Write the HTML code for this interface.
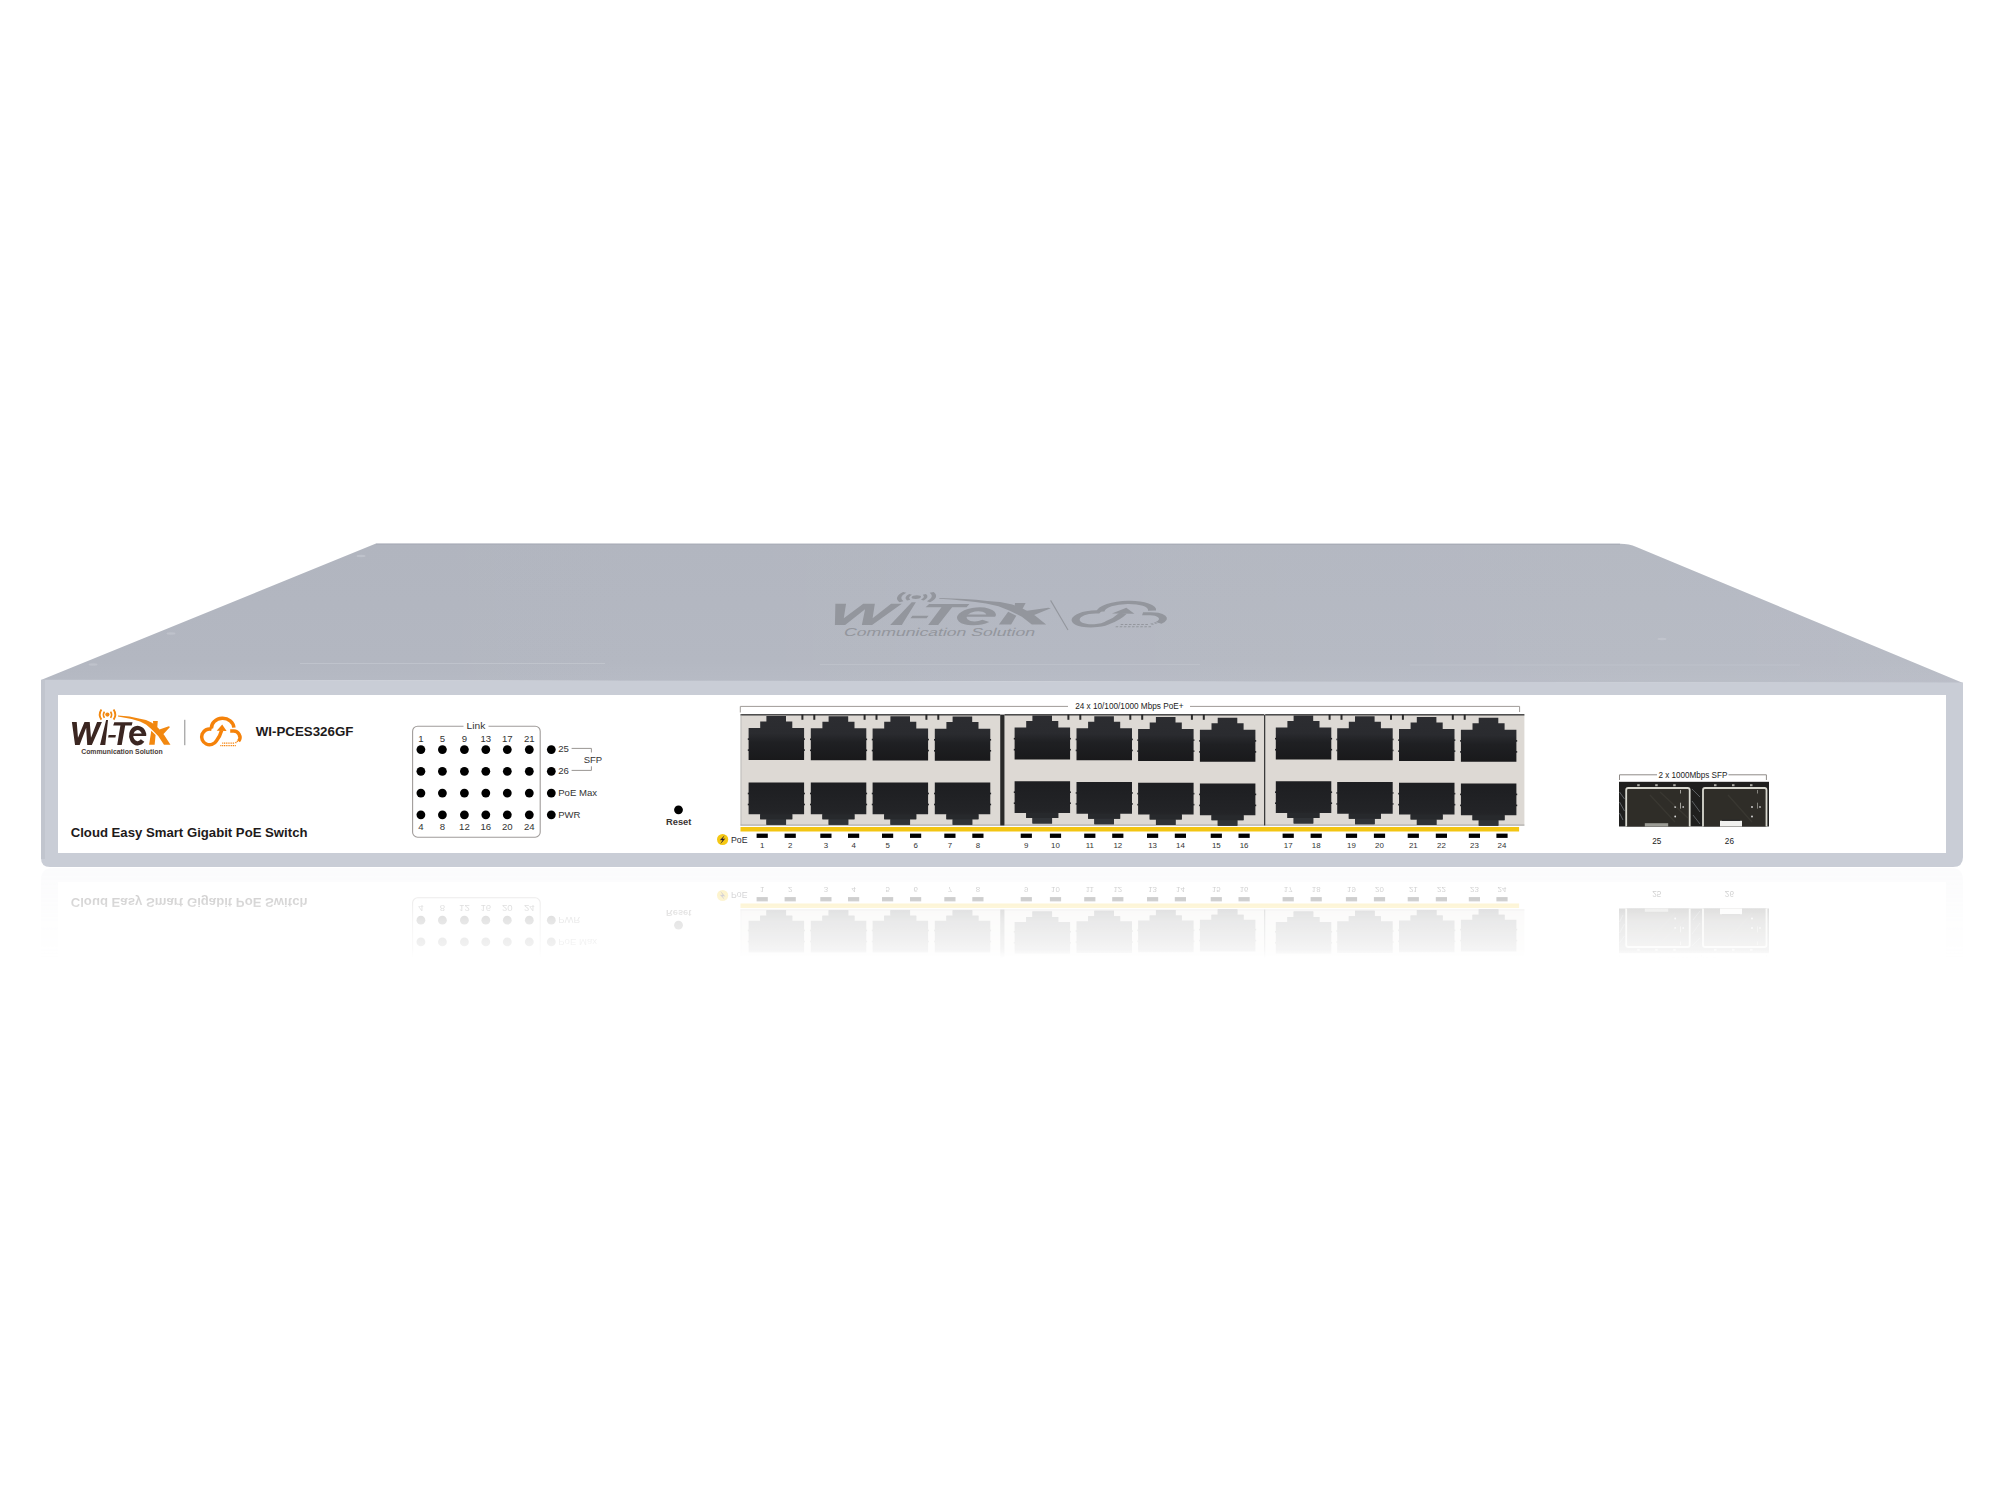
<!DOCTYPE html>
<html><head><meta charset="utf-8"><title>Wi-Tek WI-PCES326GF</title>
<style>html,body{margin:0;padding:0;background:#fff;width:2000px;height:1500px;overflow:hidden}svg{display:block}</style>
</head><body>
<svg width="2000" height="1500" viewBox="0 0 2000 1500">
<style>.s{font-family:"Liberation Sans",sans-serif}</style>
<defs>
<linearGradient id="gTop" x1="0" y1="543" x2="0" y2="683" gradientUnits="userSpaceOnUse">
<stop offset="0" stop-color="#b1b5bf"/><stop offset="0.85" stop-color="#b3b7c1"/><stop offset="1" stop-color="#b6bac4"/>
</linearGradient>
<linearGradient id="gJT" x1="0" y1="0" x2="0" y2="1"><stop offset="0" stop-color="#2c2d31"/><stop offset="0.4" stop-color="#2a2b2f"/><stop offset="0.6" stop-color="#1f2023"/><stop offset="1" stop-color="#19191b"/></linearGradient>
<linearGradient id="gJB" x1="0" y1="0" x2="0" y2="1"><stop offset="0" stop-color="#1d1e21"/><stop offset="0.7" stop-color="#232427"/><stop offset="1" stop-color="#2e3034"/></linearGradient>
<linearGradient id="gH" x1="300" y1="0" x2="1900" y2="0" gradientUnits="userSpaceOnUse"><stop offset="0" stop-color="#fff" stop-opacity="0"/><stop offset="1" stop-color="#fff" stop-opacity="0.065"/></linearGradient>
<linearGradient id="gFade" x1="0" y1="868" x2="0" y2="958" gradientUnits="userSpaceOnUse">
<stop offset="0" stop-color="#fff" stop-opacity="0.3"/><stop offset="0.32" stop-color="#fff" stop-opacity="0.2"/><stop offset="0.59" stop-color="#fff" stop-opacity="0.1"/><stop offset="0.9" stop-color="#fff" stop-opacity="0.05"/><stop offset="1" stop-color="#fff" stop-opacity="0"/>
</linearGradient>
<mask id="mFade" maskUnits="userSpaceOnUse" x="0" y="860" width="2000" height="200">
<rect x="0" y="860" width="2000" height="200" fill="url(#gFade)"/>
</mask>
</defs>
<rect width="2000" height="1500" fill="#ffffff"/>
<g mask="url(#mFade)"><g transform="translate(0,1735) scale(1,-1)">
<path d="M41,695 L1963,695 L1963,855 Q1963,867 1951,867 L53,867 Q41,867 41,855 Z" fill="#c9cdd6" opacity="0.25"/>
<use href="#front"/>
</g></g>
<path d="M376,543.6 L1620,543.8 Q1629,543.8 1636.4,546.9 L1963,683 L41,680 Z" fill="url(#gTop)"/>
<path d="M376,543.6 L1620,543.8 Q1629,543.8 1636.4,546.9 L1963,683 L41,680 Z" fill="url(#gH)"/>
<path d="M376,544.2 L1620,544.4" stroke="#a9adb7" stroke-width="1.1"/>
<ellipse cx="361" cy="556" rx="4.5" ry="1.2" fill="#cfd3da" opacity="0.45"/><ellipse cx="171" cy="633.5" rx="4.5" ry="1.2" fill="#cfd3da" opacity="0.4"/><ellipse cx="93" cy="664.5" rx="4.5" ry="1.2" fill="#cfd3da" opacity="0.4"/><ellipse cx="1662" cy="639" rx="4.5" ry="1.2" fill="#cfd3da" opacity="0.4"/>
<line x1="300" y1="663.5" x2="605" y2="663.5" stroke="#c3c7cf" stroke-width="1.2" opacity="0.8"/>
<line x1="820" y1="664.5" x2="1200" y2="664.5" stroke="#c3c7cf" stroke-width="1.2" opacity="0.6"/>
<line x1="1410" y1="665" x2="1800" y2="665" stroke="#c3c7cf" stroke-width="1.2" opacity="0.6"/>
<g transform="matrix(2.2117,0,-0.322,0.9142,908.87,-56.17)"><path d="M71.89,721.99 L76.72,721.99 L77.98,737.74 L84.49,721.99 L89.74,721.99 L91.0,737.74 L97.09,721.99 L101.92,721.99 L91.84,745.09 L87.22,745.09 L86.17,727.87 L79.66,745.09 L75.04,745.09 Z M106.12,720.1 L108.01,720.1 L105.28,745.09 L100.03,745.09 Z M108.6,734.9 L115.9,734.9 L115.4,737.6 L108.1,737.6 Z M114.27,722.13 L132.53,722.13 L131.73,725.6 L125.2,725.6 L121.73,745.07 L117.2,745.07 L120.4,725.6 L113.2,725.6 Z" fill="#93969d"/>
<path d="M144.1,734.6 A6.5,7.7 0 1,0 142.6,740.6" stroke="#93969d" stroke-width="4.3" fill="none"/>
<rect x="130.8" y="733.5" width="15.4" height="2.5" fill="#93969d"/>
<path d="M118,715.5 Q130,716.1 140,718.72 L146,719.92 L152,722.8 L157.76,727.6 L164,734.8 L170.48,744.64 L164,744.64 L158.24,736 L151.52,729.28 L146,724.48 L140,721.6 Q130,718.2 118,716.5 Z M152.96,721.12 L157.78,721.12 L157.28,727.6 L153.44,725.44 Z M151.28,730.72 L155.6,735.04 L154.64,744.64 L149.12,744.64 Z M157.28,730.24 L168.8,726.16 L170,726.88 L163.52,734.08 Z" fill="#93969d"/>
<circle cx="107.4" cy="714.6" r="2.1" fill="#93969d"/>
<path d="M104.4,711.6 Q102.4,714.6 104.4,717.8 M110.6,711.6 Q112.6,714.6 110.6,717.8" stroke="#93969d" stroke-width="1.6" fill="none"/>
<path d="M101.4,709.4 Q98,714.6 101.4,719.6 M113.6,709.4 Q117,714.6 113.6,719.6" stroke="#93969d" stroke-width="1.9" fill="none"/></g>
<text class="s" x="0" y="0" font-size="11.4" fill="#93969d" transform="translate(843,636.2) skewX(-18)" textLength="191" lengthAdjust="spacingAndGlyphs">Communication Solution</text>
<path d="M1050.6,600.4 L1068,630" stroke="#93969d" stroke-width="1.1"/>
<g transform="matrix(2.28,0,-0.3,0.89,837.05,-36.9)"><g fill="none" stroke="#93969d" stroke-width="3.5" stroke-linecap="butt">
<path d="M211.6,729.2 A7.9,7.9 0 1,0 216.4,740.8 Q219.8,737 221.6,730.5"/>
<path d="M211.4,728.6 A11.2,9.8 0 0,1 233.9,727.6"/>
<path d="M230.2,731.1 H232.5 A6.4,6.4 0 0,1 238.6,741.3"/>
</g>
<path d="M222.2,724.4 L226.6,731 L216.7,730.7 Z" fill="#93969d"/>
<path d="M222.2,743.1 h12.6" stroke="#93969d" stroke-width="1.3" stroke-dasharray="1.1,0.7"/>
<path d="M220.3,745.6 h16" stroke="#93969d" stroke-width="1.2" stroke-dasharray="1.1,0.7"/>
<path d="M235.5,743 L240,739" stroke="#93969d" stroke-width="1.5" stroke-dasharray="1.1,0.7"/></g>
<path d="M41,679.8 L1963,682.5 L1963,857 Q1963,867 1953,867 L50,867 Q41,867 41,858 Z" fill="#c9cdd6"/>
<rect x="41" y="680" width="4" height="179" fill="#c1c5ce"/>
<g id="front">
<rect x="58" y="695" width="1888" height="158" fill="#ffffff"/>
<g><path d="M71.89,721.99 L76.72,721.99 L77.98,737.74 L84.49,721.99 L89.74,721.99 L91.0,737.74 L97.09,721.99 L101.92,721.99 L91.84,745.09 L87.22,745.09 L86.17,727.87 L79.66,745.09 L75.04,745.09 Z M106.12,720.1 L108.01,720.1 L105.28,745.09 L100.03,745.09 Z M108.6,734.9 L115.9,734.9 L115.4,737.6 L108.1,737.6 Z M114.27,722.13 L132.53,722.13 L131.73,725.6 L125.2,725.6 L121.73,745.07 L117.2,745.07 L120.4,725.6 L113.2,725.6 Z" fill="#3b2621"/>
<path d="M144.1,734.6 A6.5,7.7 0 1,0 142.6,740.6" stroke="#3b2621" stroke-width="4.3" fill="none"/>
<rect x="130.8" y="733.5" width="15.4" height="2.5" fill="#3b2621"/>
<path d="M118,715.5 Q130,716.1 140,718.72 L146,719.92 L152,722.8 L157.76,727.6 L164,734.8 L170.48,744.64 L164,744.64 L158.24,736 L151.52,729.28 L146,724.48 L140,721.6 Q130,718.2 118,716.5 Z M152.96,721.12 L157.78,721.12 L157.28,727.6 L153.44,725.44 Z M151.28,730.72 L155.6,735.04 L154.64,744.64 L149.12,744.64 Z M157.28,730.24 L168.8,726.16 L170,726.88 L163.52,734.08 Z" fill="#f28810"/>
<circle cx="107.4" cy="714.6" r="2.1" fill="#f28810"/>
<path d="M104.4,711.6 Q102.4,714.6 104.4,717.8 M110.6,711.6 Q112.6,714.6 110.6,717.8" stroke="#f28810" stroke-width="1.6" fill="none"/>
<path d="M101.4,709.4 Q98,714.6 101.4,719.6 M113.6,709.4 Q117,714.6 113.6,719.6" stroke="#f28810" stroke-width="1.9" fill="none"/>
<text class="s" x="81.2" y="753.7" font-size="7.3" font-weight="bold" fill="#4a3d39" textLength="81.4" lengthAdjust="spacingAndGlyphs">Communication Solution</text>
<rect x="184.3" y="719.8" width="1" height="25.4" fill="#8a8a8a"/></g>
<g fill="none" stroke="#f5820a" stroke-width="3.5" stroke-linecap="butt">
<path d="M211.6,729.2 A7.9,7.9 0 1,0 216.4,740.8 Q219.8,737 221.6,730.5"/>
<path d="M211.4,728.6 A11.2,9.8 0 0,1 233.9,727.6"/>
<path d="M230.2,731.1 H232.5 A6.4,6.4 0 0,1 238.6,741.3"/>
</g>
<path d="M222.2,724.4 L226.6,731 L216.7,730.7 Z" fill="#f5820a"/>
<path d="M222.2,743.1 h12.6" stroke="#f5820a" stroke-width="1.3" stroke-dasharray="1.1,0.7"/>
<path d="M220.3,745.6 h16" stroke="#f5820a" stroke-width="1.2" stroke-dasharray="1.1,0.7"/>
<path d="M235.5,743 L240,739" stroke="#f5820a" stroke-width="1.5" stroke-dasharray="1.1,0.7"/>
<text class="s" x="255.8" y="735.9" font-weight="bold" font-size="13.6" fill="#1e1a1a" textLength="97.6" lengthAdjust="spacingAndGlyphs">WI-PCES326GF</text>
<text class="s" x="70.7" y="836.9" font-weight="bold" font-size="13.4" fill="#1e1a1a" textLength="236.8" lengthAdjust="spacingAndGlyphs">Cloud Easy Smart Gigabit PoE Switch</text>
<rect x="412.6" y="726.2" width="127.6" height="111" rx="5" fill="none" stroke="#a09c9a" stroke-width="1.1"/>
<rect x="463.5" y="722" width="25" height="8" fill="#fff"/>
<text class="s" x="466.6" y="729.2" font-size="9.6" fill="#333" textLength="18.7" lengthAdjust="spacingAndGlyphs">Link</text>
<text class="s" x="420.9" y="742.0" font-size="9.6" fill="#333" text-anchor="middle">1</text>
<text class="s" x="420.9" y="829.9" font-size="9.6" fill="#333" text-anchor="middle">4</text>
<circle cx="420.9" cy="749.6" r="4.4" fill="#000"/>
<circle cx="420.9" cy="771.3" r="4.4" fill="#000"/>
<circle cx="420.9" cy="793.1" r="4.4" fill="#000"/>
<circle cx="420.9" cy="814.8" r="4.4" fill="#000"/>
<text class="s" x="442.4" y="742.0" font-size="9.6" fill="#333" text-anchor="middle">5</text>
<text class="s" x="442.4" y="829.9" font-size="9.6" fill="#333" text-anchor="middle">8</text>
<circle cx="442.4" cy="749.6" r="4.4" fill="#000"/>
<circle cx="442.4" cy="771.3" r="4.4" fill="#000"/>
<circle cx="442.4" cy="793.1" r="4.4" fill="#000"/>
<circle cx="442.4" cy="814.8" r="4.4" fill="#000"/>
<text class="s" x="464.4" y="742.0" font-size="9.6" fill="#333" text-anchor="middle">9</text>
<text class="s" x="464.4" y="829.9" font-size="9.6" fill="#333" text-anchor="middle">12</text>
<circle cx="464.4" cy="749.6" r="4.4" fill="#000"/>
<circle cx="464.4" cy="771.3" r="4.4" fill="#000"/>
<circle cx="464.4" cy="793.1" r="4.4" fill="#000"/>
<circle cx="464.4" cy="814.8" r="4.4" fill="#000"/>
<text class="s" x="485.8" y="742.0" font-size="9.6" fill="#333" text-anchor="middle">13</text>
<text class="s" x="485.8" y="829.9" font-size="9.6" fill="#333" text-anchor="middle">16</text>
<circle cx="485.8" cy="749.6" r="4.4" fill="#000"/>
<circle cx="485.8" cy="771.3" r="4.4" fill="#000"/>
<circle cx="485.8" cy="793.1" r="4.4" fill="#000"/>
<circle cx="485.8" cy="814.8" r="4.4" fill="#000"/>
<text class="s" x="507.3" y="742.0" font-size="9.6" fill="#333" text-anchor="middle">17</text>
<text class="s" x="507.3" y="829.9" font-size="9.6" fill="#333" text-anchor="middle">20</text>
<circle cx="507.3" cy="749.6" r="4.4" fill="#000"/>
<circle cx="507.3" cy="771.3" r="4.4" fill="#000"/>
<circle cx="507.3" cy="793.1" r="4.4" fill="#000"/>
<circle cx="507.3" cy="814.8" r="4.4" fill="#000"/>
<text class="s" x="529.3" y="742.0" font-size="9.6" fill="#333" text-anchor="middle">21</text>
<text class="s" x="529.3" y="829.9" font-size="9.6" fill="#333" text-anchor="middle">24</text>
<circle cx="529.3" cy="749.6" r="4.4" fill="#000"/>
<circle cx="529.3" cy="771.3" r="4.4" fill="#000"/>
<circle cx="529.3" cy="793.1" r="4.4" fill="#000"/>
<circle cx="529.3" cy="814.8" r="4.4" fill="#000"/>
<circle cx="551.3" cy="749.6" r="4.4" fill="#000"/>
<circle cx="551.3" cy="771.3" r="4.4" fill="#000"/>
<circle cx="551.3" cy="793.1" r="4.4" fill="#000"/>
<circle cx="551.3" cy="814.8" r="4.4" fill="#000"/>
<text class="s" x="558.2" y="751.9" font-size="9.6" fill="#333">25</text>
<text class="s" x="558.2" y="773.7" font-size="9.6" fill="#333">26</text>
<text class="s" x="558.2" y="796.1" font-size="9.6" fill="#333" textLength="38.8" lengthAdjust="spacingAndGlyphs">PoE Max</text>
<text class="s" x="558.2" y="818.1" font-size="9.6" fill="#333" textLength="22.2" lengthAdjust="spacingAndGlyphs">PWR</text>
<path d="M571.6,748.4 H591.4 V752.5 M571.6,770.4 H591.4 V766.3" fill="none" stroke="#9a9693" stroke-width="1"/>
<text class="s" x="583.7" y="762.9" font-size="9.6" fill="#333" textLength="18.5" lengthAdjust="spacingAndGlyphs">SFP</text>
<circle cx="678.5" cy="809.8" r="4.4" fill="#000"/>
<text class="s" x="666" y="825.4" font-size="9.4" font-weight="bold" fill="#3a3533" textLength="25.4" lengthAdjust="spacingAndGlyphs">Reset</text>
<path d="M740.3,712.5 V706.4 H1068 M1190,706.4 H1519.6 V712" fill="none" stroke="#9f9b98" stroke-width="1"/>
<text class="s" x="1075.2" y="709.4" font-size="8.4" fill="#222" textLength="108.3" lengthAdjust="spacingAndGlyphs">24 x 10/100/1000 Mbps PoE+</text>
<rect x="740.5" y="714.6" width="259.7" height="111" fill="#ddd9d4"/>
<rect x="740.5" y="714.1" width="259.7" height="1.4" fill="#3c3c3c"/>
<rect x="740.5" y="824.6" width="259.7" height="1" fill="#8d8a88" opacity="0.7"/>
<rect x="1004.5" y="714.6" width="259.5" height="111" fill="#ddd9d4"/>
<rect x="1004.5" y="714.1" width="259.5" height="1.4" fill="#3c3c3c"/>
<rect x="1004.5" y="824.6" width="259.5" height="1" fill="#8d8a88" opacity="0.7"/>
<rect x="1265.2" y="714.6" width="259.2" height="111" fill="#ddd9d4"/>
<rect x="1265.2" y="714.1" width="259.2" height="1.4" fill="#3c3c3c"/>
<rect x="1265.2" y="824.6" width="259.2" height="1" fill="#8d8a88" opacity="0.7"/>
<rect x="1000.2" y="714.6" width="4.3" height="111" fill="#2a2a2a"/>
<rect x="1264" y="714.6" width="1.3" height="111" fill="#3a3a3a"/>
<rect x="740.5" y="714.6" width="1" height="111" fill="#aaa" opacity="0.6"/>
<g transform="translate(0,-0.20)"><path d="M766.4,716.1h19.6v5.5h6.3v6.6h11.8v32h-55.5v-32h11.6v-6.6h6.2z" fill="url(#gJT)"/>
<rect x="747.8" y="738.5" width="1.2" height="1.6" fill="#222326"/><rect x="803.7" y="738.5" width="1.2" height="1.6" fill="#222326"/>
<rect x="747.8" y="749.5" width="1.2" height="1.6" fill="#222326"/><rect x="803.7" y="749.5" width="1.2" height="1.6" fill="#222326"/>
</g>
<g transform="translate(0,0.20)">
<path d="M748.6,782.3h55.5v31.8h-11.8v5h-6.2v5.5h-19.6v-5.5h-6.3v-5h-11.6z" fill="url(#gJB)"/>
<rect x="760.2" y="814.1" width="32" height="5" fill="#27292c"/>
<rect x="766.4" y="819.1" width="19.6" height="5.5" fill="#303337"/>
<rect x="747.8" y="792.5" width="1.2" height="1.6" fill="#222326"/><rect x="803.7" y="792.5" width="1.2" height="1.6" fill="#222326"/>
<rect x="747.8" y="803.5" width="1.2" height="1.6" fill="#222326"/><rect x="803.7" y="803.5" width="1.2" height="1.6" fill="#222326"/>
</g>
<rect x="801.4" y="714.6" width="2" height="5.2" fill="#2a2a2a"/>
<rect x="813.3" y="714.6" width="2" height="5.2" fill="#2a2a2a"/>
<g transform="translate(0,0.03)"><path d="M828.6,716.1h19.6v5.5h6.3v6.6h11.8v32h-55.5v-32h11.6v-6.6h6.2z" fill="url(#gJT)"/>
<rect x="810.0" y="738.5" width="1.2" height="1.6" fill="#222326"/><rect x="865.9" y="738.5" width="1.2" height="1.6" fill="#222326"/>
<rect x="810.0" y="749.5" width="1.2" height="1.6" fill="#222326"/><rect x="865.9" y="749.5" width="1.2" height="1.6" fill="#222326"/>
</g>
<g transform="translate(0,0.20)">
<path d="M810.8,782.3h55.5v31.8h-11.8v5h-6.2v5.5h-19.6v-5.5h-6.3v-5h-11.6z" fill="url(#gJB)"/>
<rect x="822.4" y="814.1" width="32" height="5" fill="#27292c"/>
<rect x="828.6" y="819.1" width="19.6" height="5.5" fill="#303337"/>
<rect x="810.0" y="792.5" width="1.2" height="1.6" fill="#222326"/><rect x="865.9" y="792.5" width="1.2" height="1.6" fill="#222326"/>
<rect x="810.0" y="803.5" width="1.2" height="1.6" fill="#222326"/><rect x="865.9" y="803.5" width="1.2" height="1.6" fill="#222326"/>
</g>
<rect x="863.6" y="714.6" width="2" height="5.2" fill="#2a2a2a"/>
<rect x="875.5" y="714.6" width="2" height="5.2" fill="#2a2a2a"/>
<g transform="translate(0,0.26)"><path d="M890.4,716.1h19.6v5.5h6.3v6.6h11.8v32h-55.5v-32h11.6v-6.6h6.2z" fill="url(#gJT)"/>
<rect x="871.8" y="738.5" width="1.2" height="1.6" fill="#222326"/><rect x="927.7" y="738.5" width="1.2" height="1.6" fill="#222326"/>
<rect x="871.8" y="749.5" width="1.2" height="1.6" fill="#222326"/><rect x="927.7" y="749.5" width="1.2" height="1.6" fill="#222326"/>
</g>
<g transform="translate(0,0.20)">
<path d="M872.6,782.3h55.5v31.8h-11.8v5h-6.2v5.5h-19.6v-5.5h-6.3v-5h-11.6z" fill="url(#gJB)"/>
<rect x="884.2" y="814.1" width="32" height="5" fill="#27292c"/>
<rect x="890.4" y="819.1" width="19.6" height="5.5" fill="#303337"/>
<rect x="871.8" y="792.5" width="1.2" height="1.6" fill="#222326"/><rect x="927.7" y="792.5" width="1.2" height="1.6" fill="#222326"/>
<rect x="871.8" y="803.5" width="1.2" height="1.6" fill="#222326"/><rect x="927.7" y="803.5" width="1.2" height="1.6" fill="#222326"/>
</g>
<rect x="925.4" y="714.6" width="2" height="5.2" fill="#2a2a2a"/>
<rect x="937.3" y="714.6" width="2" height="5.2" fill="#2a2a2a"/>
<g transform="translate(0,0.49)"><path d="M952.6,716.1h19.6v5.5h6.3v6.6h11.8v32h-55.5v-32h11.6v-6.6h6.2z" fill="url(#gJT)"/>
<rect x="934.0" y="738.5" width="1.2" height="1.6" fill="#222326"/><rect x="989.9" y="738.5" width="1.2" height="1.6" fill="#222326"/>
<rect x="934.0" y="749.5" width="1.2" height="1.6" fill="#222326"/><rect x="989.9" y="749.5" width="1.2" height="1.6" fill="#222326"/>
</g>
<g transform="translate(0,0.20)">
<path d="M934.8,782.3h55.5v31.8h-11.8v5h-6.2v5.5h-19.6v-5.5h-6.3v-5h-11.6z" fill="url(#gJB)"/>
<rect x="946.4" y="814.1" width="32" height="5" fill="#27292c"/>
<rect x="952.6" y="819.1" width="19.6" height="5.5" fill="#303337"/>
<rect x="934.0" y="792.5" width="1.2" height="1.6" fill="#222326"/><rect x="989.9" y="792.5" width="1.2" height="1.6" fill="#222326"/>
<rect x="934.0" y="803.5" width="1.2" height="1.6" fill="#222326"/><rect x="989.9" y="803.5" width="1.2" height="1.6" fill="#222326"/>
</g>
<g transform="translate(0,-0.60)"><path d="M1032.4,716.1h19.6v5.5h6.3v6.6h11.8v32h-55.5v-32h11.6v-6.6h6.2z" fill="url(#gJT)"/>
<rect x="1013.8" y="738.5" width="1.2" height="1.6" fill="#222326"/><rect x="1069.7" y="738.5" width="1.2" height="1.6" fill="#222326"/>
<rect x="1013.8" y="749.5" width="1.2" height="1.6" fill="#222326"/><rect x="1069.7" y="749.5" width="1.2" height="1.6" fill="#222326"/>
</g>
<g transform="translate(0,-1.10)">
<path d="M1014.6,782.3h55.5v31.8h-11.8v5h-6.2v5.5h-19.6v-5.5h-6.3v-5h-11.6z" fill="url(#gJB)"/>
<rect x="1026.2" y="814.1" width="32" height="5" fill="#27292c"/>
<rect x="1032.4" y="819.1" width="19.6" height="5.5" fill="#303337"/>
<rect x="1013.8" y="792.5" width="1.2" height="1.6" fill="#222326"/><rect x="1069.7" y="792.5" width="1.2" height="1.6" fill="#222326"/>
<rect x="1013.8" y="803.5" width="1.2" height="1.6" fill="#222326"/><rect x="1069.7" y="803.5" width="1.2" height="1.6" fill="#222326"/>
</g>
<rect x="1067.4" y="714.6" width="2" height="5.2" fill="#2a2a2a"/>
<rect x="1079.3" y="714.6" width="2" height="5.2" fill="#2a2a2a"/>
<g transform="translate(0,0.13)"><path d="M1094.3,716.1h19.6v5.5h6.3v6.6h11.8v32h-55.5v-32h11.6v-6.6h6.2z" fill="url(#gJT)"/>
<rect x="1075.7" y="738.5" width="1.2" height="1.6" fill="#222326"/><rect x="1131.6" y="738.5" width="1.2" height="1.6" fill="#222326"/>
<rect x="1075.7" y="749.5" width="1.2" height="1.6" fill="#222326"/><rect x="1131.6" y="749.5" width="1.2" height="1.6" fill="#222326"/>
</g>
<g transform="translate(0,-0.37)">
<path d="M1076.5,782.3h55.5v31.8h-11.8v5h-6.2v5.5h-19.6v-5.5h-6.3v-5h-11.6z" fill="url(#gJB)"/>
<rect x="1088.1" y="814.1" width="32" height="5" fill="#27292c"/>
<rect x="1094.3" y="819.1" width="19.6" height="5.5" fill="#303337"/>
<rect x="1075.7" y="792.5" width="1.2" height="1.6" fill="#222326"/><rect x="1131.6" y="792.5" width="1.2" height="1.6" fill="#222326"/>
<rect x="1075.7" y="803.5" width="1.2" height="1.6" fill="#222326"/><rect x="1131.6" y="803.5" width="1.2" height="1.6" fill="#222326"/>
</g>
<rect x="1129.3" y="714.6" width="2" height="5.2" fill="#2a2a2a"/>
<rect x="1141.2" y="714.6" width="2" height="5.2" fill="#2a2a2a"/>
<g transform="translate(0,0.86)"><path d="M1155.9,716.1h19.6v5.5h6.3v6.6h11.8v32h-55.5v-32h11.6v-6.6h6.2z" fill="url(#gJT)"/>
<rect x="1137.3" y="738.5" width="1.2" height="1.6" fill="#222326"/><rect x="1193.2" y="738.5" width="1.2" height="1.6" fill="#222326"/>
<rect x="1137.3" y="749.5" width="1.2" height="1.6" fill="#222326"/><rect x="1193.2" y="749.5" width="1.2" height="1.6" fill="#222326"/>
</g>
<g transform="translate(0,0.36)">
<path d="M1138.1,782.3h55.5v31.8h-11.8v5h-6.2v5.5h-19.6v-5.5h-6.3v-5h-11.6z" fill="url(#gJB)"/>
<rect x="1149.7" y="814.1" width="32" height="5" fill="#27292c"/>
<rect x="1155.9" y="819.1" width="19.6" height="5.5" fill="#303337"/>
<rect x="1137.3" y="792.5" width="1.2" height="1.6" fill="#222326"/><rect x="1193.2" y="792.5" width="1.2" height="1.6" fill="#222326"/>
<rect x="1137.3" y="803.5" width="1.2" height="1.6" fill="#222326"/><rect x="1193.2" y="803.5" width="1.2" height="1.6" fill="#222326"/>
</g>
<rect x="1190.9" y="714.6" width="2" height="5.2" fill="#2a2a2a"/>
<rect x="1202.8" y="714.6" width="2" height="5.2" fill="#2a2a2a"/>
<g transform="translate(0,1.59)"><path d="M1217.7,716.1h19.6v5.5h6.3v6.6h11.8v32h-55.5v-32h11.6v-6.6h6.2z" fill="url(#gJT)"/>
<rect x="1199.1" y="738.5" width="1.2" height="1.6" fill="#222326"/><rect x="1255.0" y="738.5" width="1.2" height="1.6" fill="#222326"/>
<rect x="1199.1" y="749.5" width="1.2" height="1.6" fill="#222326"/><rect x="1255.0" y="749.5" width="1.2" height="1.6" fill="#222326"/>
</g>
<g transform="translate(0,1.09)">
<path d="M1199.9,782.3h55.5v31.8h-11.8v5h-6.2v5.5h-19.6v-5.5h-6.3v-5h-11.6z" fill="url(#gJB)"/>
<rect x="1211.5" y="814.1" width="32" height="5" fill="#27292c"/>
<rect x="1217.7" y="819.1" width="19.6" height="5.5" fill="#303337"/>
<rect x="1199.1" y="792.5" width="1.2" height="1.6" fill="#222326"/><rect x="1255.0" y="792.5" width="1.2" height="1.6" fill="#222326"/>
<rect x="1199.1" y="803.5" width="1.2" height="1.6" fill="#222326"/><rect x="1255.0" y="803.5" width="1.2" height="1.6" fill="#222326"/>
</g>
<g transform="translate(0,-0.60)"><path d="M1293.6,716.1h19.6v5.5h6.3v6.6h11.8v32h-55.5v-32h11.6v-6.6h6.2z" fill="url(#gJT)"/>
<rect x="1275.0" y="738.5" width="1.2" height="1.6" fill="#222326"/><rect x="1330.9" y="738.5" width="1.2" height="1.6" fill="#222326"/>
<rect x="1275.0" y="749.5" width="1.2" height="1.6" fill="#222326"/><rect x="1330.9" y="749.5" width="1.2" height="1.6" fill="#222326"/>
</g>
<g transform="translate(0,-1.10)">
<path d="M1275.8,782.3h55.5v31.8h-11.8v5h-6.2v5.5h-19.6v-5.5h-6.3v-5h-11.6z" fill="url(#gJB)"/>
<rect x="1287.4" y="814.1" width="32" height="5" fill="#27292c"/>
<rect x="1293.6" y="819.1" width="19.6" height="5.5" fill="#303337"/>
<rect x="1275.0" y="792.5" width="1.2" height="1.6" fill="#222326"/><rect x="1330.9" y="792.5" width="1.2" height="1.6" fill="#222326"/>
<rect x="1275.0" y="803.5" width="1.2" height="1.6" fill="#222326"/><rect x="1330.9" y="803.5" width="1.2" height="1.6" fill="#222326"/>
</g>
<rect x="1328.6" y="714.6" width="2" height="5.2" fill="#2a2a2a"/>
<rect x="1340.5" y="714.6" width="2" height="5.2" fill="#2a2a2a"/>
<g transform="translate(0,0.13)"><path d="M1355.0,716.1h19.6v5.5h6.3v6.6h11.8v32h-55.5v-32h11.6v-6.6h6.2z" fill="url(#gJT)"/>
<rect x="1336.4" y="738.5" width="1.2" height="1.6" fill="#222326"/><rect x="1392.3" y="738.5" width="1.2" height="1.6" fill="#222326"/>
<rect x="1336.4" y="749.5" width="1.2" height="1.6" fill="#222326"/><rect x="1392.3" y="749.5" width="1.2" height="1.6" fill="#222326"/>
</g>
<g transform="translate(0,-0.37)">
<path d="M1337.2,782.3h55.5v31.8h-11.8v5h-6.2v5.5h-19.6v-5.5h-6.3v-5h-11.6z" fill="url(#gJB)"/>
<rect x="1348.8" y="814.1" width="32" height="5" fill="#27292c"/>
<rect x="1355.0" y="819.1" width="19.6" height="5.5" fill="#303337"/>
<rect x="1336.4" y="792.5" width="1.2" height="1.6" fill="#222326"/><rect x="1392.3" y="792.5" width="1.2" height="1.6" fill="#222326"/>
<rect x="1336.4" y="803.5" width="1.2" height="1.6" fill="#222326"/><rect x="1392.3" y="803.5" width="1.2" height="1.6" fill="#222326"/>
</g>
<rect x="1390.0" y="714.6" width="2" height="5.2" fill="#2a2a2a"/>
<rect x="1401.9" y="714.6" width="2" height="5.2" fill="#2a2a2a"/>
<g transform="translate(0,0.86)"><path d="M1416.8,716.1h19.6v5.5h6.3v6.6h11.8v32h-55.5v-32h11.6v-6.6h6.2z" fill="url(#gJT)"/>
<rect x="1398.2" y="738.5" width="1.2" height="1.6" fill="#222326"/><rect x="1454.1" y="738.5" width="1.2" height="1.6" fill="#222326"/>
<rect x="1398.2" y="749.5" width="1.2" height="1.6" fill="#222326"/><rect x="1454.1" y="749.5" width="1.2" height="1.6" fill="#222326"/>
</g>
<g transform="translate(0,0.36)">
<path d="M1399.0,782.3h55.5v31.8h-11.8v5h-6.2v5.5h-19.6v-5.5h-6.3v-5h-11.6z" fill="url(#gJB)"/>
<rect x="1410.6" y="814.1" width="32" height="5" fill="#27292c"/>
<rect x="1416.8" y="819.1" width="19.6" height="5.5" fill="#303337"/>
<rect x="1398.2" y="792.5" width="1.2" height="1.6" fill="#222326"/><rect x="1454.1" y="792.5" width="1.2" height="1.6" fill="#222326"/>
<rect x="1398.2" y="803.5" width="1.2" height="1.6" fill="#222326"/><rect x="1454.1" y="803.5" width="1.2" height="1.6" fill="#222326"/>
</g>
<rect x="1451.8" y="714.6" width="2" height="5.2" fill="#2a2a2a"/>
<rect x="1463.7" y="714.6" width="2" height="5.2" fill="#2a2a2a"/>
<g transform="translate(0,1.59)"><path d="M1478.7,716.1h19.6v5.5h6.3v6.6h11.8v32h-55.5v-32h11.6v-6.6h6.2z" fill="url(#gJT)"/>
<rect x="1460.1" y="738.5" width="1.2" height="1.6" fill="#222326"/><rect x="1516.0" y="738.5" width="1.2" height="1.6" fill="#222326"/>
<rect x="1460.1" y="749.5" width="1.2" height="1.6" fill="#222326"/><rect x="1516.0" y="749.5" width="1.2" height="1.6" fill="#222326"/>
</g>
<g transform="translate(0,1.09)">
<path d="M1460.9,782.3h55.5v31.8h-11.8v5h-6.2v5.5h-19.6v-5.5h-6.3v-5h-11.6z" fill="url(#gJB)"/>
<rect x="1472.5" y="814.1" width="32" height="5" fill="#27292c"/>
<rect x="1478.7" y="819.1" width="19.6" height="5.5" fill="#303337"/>
<rect x="1460.1" y="792.5" width="1.2" height="1.6" fill="#222326"/><rect x="1516.0" y="792.5" width="1.2" height="1.6" fill="#222326"/>
<rect x="1460.1" y="803.5" width="1.2" height="1.6" fill="#222326"/><rect x="1516.0" y="803.5" width="1.2" height="1.6" fill="#222326"/>
</g>
<rect x="740.5" y="827" width="778.6" height="4.5" fill="#f3c512"/>
<circle cx="722.6" cy="839.5" r="5.6" fill="#f5c814"/>
<path d="M724.6,835.2 L719.8,840.3 L722.6,840 L720.2,844.2 L725.4,838.6 L722.6,838.9 Z" fill="#2a1e36"/>
<text class="s" x="731" y="843.2" font-size="9.8" fill="#2a2a33" textLength="16.5" lengthAdjust="spacingAndGlyphs">PoE</text>
<rect x="756.6" y="833.6" width="11.2" height="4.3" fill="#000"/>
<text class="s" x="762.2" y="848.3" font-size="7.9" fill="#333" text-anchor="middle">1</text>
<rect x="784.6" y="833.6" width="11.2" height="4.3" fill="#000"/>
<text class="s" x="790.2" y="848.3" font-size="7.9" fill="#333" text-anchor="middle">2</text>
<rect x="820.3" y="833.6" width="11.2" height="4.3" fill="#000"/>
<text class="s" x="825.9" y="848.3" font-size="7.9" fill="#333" text-anchor="middle">3</text>
<rect x="848.0" y="833.6" width="11.2" height="4.3" fill="#000"/>
<text class="s" x="853.6" y="848.3" font-size="7.9" fill="#333" text-anchor="middle">4</text>
<rect x="882.0" y="833.6" width="11.2" height="4.3" fill="#000"/>
<text class="s" x="887.6" y="848.3" font-size="7.9" fill="#333" text-anchor="middle">5</text>
<rect x="910.0" y="833.6" width="11.2" height="4.3" fill="#000"/>
<text class="s" x="915.6" y="848.3" font-size="7.9" fill="#333" text-anchor="middle">6</text>
<rect x="944.3" y="833.6" width="11.2" height="4.3" fill="#000"/>
<text class="s" x="949.9" y="848.3" font-size="7.9" fill="#333" text-anchor="middle">7</text>
<rect x="972.3" y="833.6" width="11.2" height="4.3" fill="#000"/>
<text class="s" x="977.9" y="848.3" font-size="7.9" fill="#333" text-anchor="middle">8</text>
<rect x="1020.7" y="833.6" width="11.2" height="4.3" fill="#000"/>
<text class="s" x="1026.3" y="848.3" font-size="7.9" fill="#333" text-anchor="middle">9</text>
<rect x="1049.9" y="833.6" width="11.2" height="4.3" fill="#000"/>
<text class="s" x="1055.5" y="848.3" font-size="7.9" fill="#333" text-anchor="middle">10</text>
<rect x="1084.2" y="833.6" width="11.2" height="4.3" fill="#000"/>
<text class="s" x="1089.8" y="848.3" font-size="7.9" fill="#333" text-anchor="middle">11</text>
<rect x="1112.2" y="833.6" width="11.2" height="4.3" fill="#000"/>
<text class="s" x="1117.8" y="848.3" font-size="7.9" fill="#333" text-anchor="middle">12</text>
<rect x="1147.0" y="833.6" width="11.2" height="4.3" fill="#000"/>
<text class="s" x="1152.6" y="848.3" font-size="7.9" fill="#333" text-anchor="middle">13</text>
<rect x="1174.8" y="833.6" width="11.2" height="4.3" fill="#000"/>
<text class="s" x="1180.4" y="848.3" font-size="7.9" fill="#333" text-anchor="middle">14</text>
<rect x="1210.7" y="833.6" width="11.2" height="4.3" fill="#000"/>
<text class="s" x="1216.3" y="848.3" font-size="7.9" fill="#333" text-anchor="middle">15</text>
<rect x="1238.5" y="833.6" width="11.2" height="4.3" fill="#000"/>
<text class="s" x="1244.1" y="848.3" font-size="7.9" fill="#333" text-anchor="middle">16</text>
<rect x="1282.6" y="833.6" width="11.2" height="4.3" fill="#000"/>
<text class="s" x="1288.2" y="848.3" font-size="7.9" fill="#333" text-anchor="middle">17</text>
<rect x="1310.6" y="833.6" width="11.2" height="4.3" fill="#000"/>
<text class="s" x="1316.2" y="848.3" font-size="7.9" fill="#333" text-anchor="middle">18</text>
<rect x="1345.9" y="833.6" width="11.2" height="4.3" fill="#000"/>
<text class="s" x="1351.5" y="848.3" font-size="7.9" fill="#333" text-anchor="middle">19</text>
<rect x="1373.9" y="833.6" width="11.2" height="4.3" fill="#000"/>
<text class="s" x="1379.5" y="848.3" font-size="7.9" fill="#333" text-anchor="middle">20</text>
<rect x="1407.7" y="833.6" width="11.2" height="4.3" fill="#000"/>
<text class="s" x="1413.3" y="848.3" font-size="7.9" fill="#333" text-anchor="middle">21</text>
<rect x="1435.8" y="833.6" width="11.2" height="4.3" fill="#000"/>
<text class="s" x="1441.4" y="848.3" font-size="7.9" fill="#333" text-anchor="middle">22</text>
<rect x="1468.8" y="833.6" width="11.2" height="4.3" fill="#000"/>
<text class="s" x="1474.4" y="848.3" font-size="7.9" fill="#333" text-anchor="middle">23</text>
<rect x="1496.4" y="833.6" width="11.2" height="4.3" fill="#000"/>
<text class="s" x="1502.0" y="848.3" font-size="7.9" fill="#333" text-anchor="middle">24</text>
<path d="M1619.5,780 V774.8 H1657 M1728.5,774.8 H1766.4 V780" fill="none" stroke="#8f8b88" stroke-width="1"/>
<text class="s" x="1658.4" y="778" font-size="8.2" fill="#222" textLength="69" lengthAdjust="spacingAndGlyphs">2 x 1000Mbps SFP</text>
<rect x="1619" y="781.8" width="150" height="44.7" fill="#1f1f1e"/>
<path d="M1626.2,826.5 V790 Q1626.2,788 1628.2,788 H1687.7 Q1689.7,788 1689.7,790 V826.5" fill="#2f2d28" stroke="#d9d9d0" stroke-width="1.8"/>
<rect x="1637.2" y="784.2" width="2.5" height="2" fill="#cfcfc8" opacity="0.8"/>
<rect x="1655.2" y="784.2" width="2.5" height="2" fill="#cfcfc8" opacity="0.8"/>
<rect x="1673.2" y="784.2" width="2.5" height="2" fill="#cfcfc8" opacity="0.8"/>
<circle cx="1675.2" cy="807" r="0.9" fill="#ddd"/><circle cx="1675.2" cy="816.5" r="0.9" fill="#ddd"/><circle cx="1683.2" cy="807" r="0.9" fill="#bbb"/>
<path d="M1703.0,826.5 V790 Q1703.0,788 1705.0,788 H1764.5 Q1766.5,788 1766.5,790 V826.5" fill="#2f2d28" stroke="#d9d9d0" stroke-width="1.8"/>
<rect x="1714.0" y="784.2" width="2.5" height="2" fill="#cfcfc8" opacity="0.8"/>
<rect x="1732.0" y="784.2" width="2.5" height="2" fill="#cfcfc8" opacity="0.8"/>
<rect x="1750.0" y="784.2" width="2.5" height="2" fill="#cfcfc8" opacity="0.8"/>
<circle cx="1752.0" cy="807" r="0.9" fill="#ddd"/><circle cx="1752.0" cy="816.5" r="0.9" fill="#ddd"/><circle cx="1760.0" cy="807" r="0.9" fill="#bbb"/>
<path d="M1619.5,792 L1624.5,799 M1619.5,802 L1624.5,811 M1619.5,813 L1623,820" stroke="#8a9098" stroke-width="1" opacity="0.6"/>
<path d="M1692,789 L1700,797 M1692,801 L1700,812 M1693,815 L1700,824" stroke="#8d9399" stroke-width="1" opacity="0.55"/>
<path d="M1680.5,802.7 V808.6 M1680.5,790 V793.5" stroke="#cfcfc8" stroke-width="0.9" opacity="0.8"/>
<path d="M1757.5,802.7 V808.6 M1757.5,790 V793.5" stroke="#cfcfc8" stroke-width="0.9" opacity="0.6"/>
<path d="M1650,795 L1675,822 M1660,792 L1688,818 M1728,795 L1752,822" stroke="#4a4840" stroke-width="1.2" opacity="0.4"/>
<rect x="1720" y="820.8" width="22" height="5.7" fill="#f0f0ee"/>
<rect x="1722" y="819.6" width="18" height="1.4" fill="#2a2a2a"/>
<rect x="1644.8" y="823.2" width="23.4" height="3.3" fill="#b8b8b0" opacity="0.8"/>
<text class="s" x="1656.7" y="844" font-size="8.2" fill="#222" text-anchor="middle">25</text>
<text class="s" x="1729.4" y="844" font-size="8.2" fill="#222" text-anchor="middle">26</text>
</g>
</svg>
</body></html>
